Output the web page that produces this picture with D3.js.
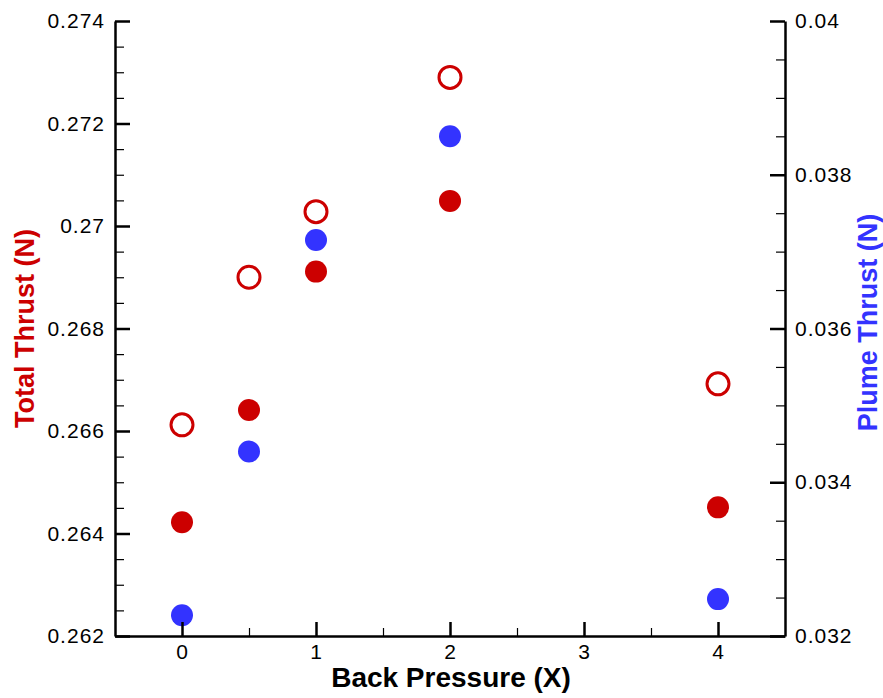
<!DOCTYPE html>
<html>
<head>
<meta charset="utf-8">
<script src="https://cdn.jsdelivr.net/npm/d3@7"></script>
<style>
  html, body { margin: 0; padding: 0; background: #fff; }
  svg { display: block; }
  text { font-family: "Liberation Sans", Arial, Helvetica, sans-serif; }
</style>
</head>
<body>
<svg id="chart" width="883" height="698"></svg>
<script>
// ---- data ----
const backPressure = [0, 0.5, 1, 2, 4];
const totalThrustOpen = [0.26612, 0.2690, 0.27028, 0.2729, 0.26692];
const totalThrustFilled = [0.26422, 0.26641, 0.26911, 0.27049, 0.26451];
const plumeThrust = [0.03227, 0.0344, 0.03715, 0.0385, 0.03248];

const xTicks = [0, 1, 2, 3, 4];
const xMinorTicks = [0.5, 1.5, 2.5, 3.5];
const leftTicks = [0.262, 0.264, 0.266, 0.268, 0.270, 0.272, 0.274];
const leftTickLabels = ["0.262", "0.264", "0.266", "0.268", "0.27", "0.272", "0.274"];
const rightTicks = [0.032, 0.034, 0.036, 0.038, 0.040];
const rightTickLabels = ["0.032", "0.034", "0.036", "0.038", "0.04"];

const xTitle = "Back Pressure (X)";
const leftTitle = "Total Thrust (N)";
const rightTitle = "Plume Thrust (N)";

// ---- layout ----
const red = "#cc0000", blue = "#3333ff";
const L = 115, R = 785, T = 21, B = 636;
const svg = d3.select("#chart");

const x = d3.scaleLinear().domain([-0.5, 4.5]).range([L, R]);
const yL = d3.scaleLinear().domain([0.262, 0.274]).range([B, T]);
const yR = d3.scaleLinear().domain([0.032, 0.040]).range([B, T]);

const leftMinor = d3.range(0, 25).map(i => 0.262 + i * 0.0005).filter((v, i) => i % 4 !== 0);
const rightMinor = d3.range(0, 17).map(i => 0.032 + i * 0.0005).filter((v, i) => i % 4 !== 0);

// ---- points ----
const pts = svg.append("g");
pts.selectAll("circle.open").data(backPressure).join("circle")
  .attr("cx", d => x(d)).attr("cy", (d, i) => yL(totalThrustOpen[i]))
  .attr("r", 11).attr("fill", "none").attr("stroke", red).attr("stroke-width", 3);
pts.selectAll("circle.filled").data(backPressure).join("circle")
  .attr("cx", d => x(d)).attr("cy", (d, i) => yL(totalThrustFilled[i]))
  .attr("r", 11).attr("fill", red);
pts.selectAll("circle.plume").data(backPressure).join("circle")
  .attr("cx", d => x(d)).attr("cy", (d, i) => yR(plumeThrust[i]))
  .attr("r", 11).attr("fill", blue);

// ---- axes ----
function style(g, size) {
  g.selectAll("path.domain").attr("stroke", "#000").attr("stroke-width", 2.5);
  g.selectAll(".tick line").attr("stroke", "#000").attr("stroke-width", size);
  g.selectAll(".tick text").attr("font-size", 21).attr("fill", "#000")
    .attr("letter-spacing", "1px")
    .attr("font-family", '"Liberation Sans", Arial, Helvetica, sans-serif');
}

// x axis
const gxMin = svg.append("g").attr("transform", `translate(0,${B})`)
  .call(d3.axisBottom(x).tickValues(xMinorTicks).tickSizeInner(-8).tickSizeOuter(0).tickFormat(""));
gxMin.select("path.domain").remove(); style(gxMin, 1.2);
const gx = svg.append("g").attr("transform", `translate(0,${B})`)
  .call(d3.axisBottom(x).tickValues(xTicks).tickSizeInner(-14).tickSizeOuter(0).tickPadding(8).tickFormat(d3.format("d")));
style(gx, 2.5);

// left axis
const glMin = svg.append("g").attr("transform", `translate(${L},0)`)
  .call(d3.axisLeft(yL).tickValues(leftMinor).tickSizeInner(-9).tickSizeOuter(0).tickFormat(""));
glMin.select("path.domain").remove(); style(glMin, 1.2);
const gl = svg.append("g").attr("transform", `translate(${L},0)`)
  .call(d3.axisLeft(yL).tickValues(leftTicks).tickSizeInner(-15).tickSizeOuter(0).tickPadding(10)
    .tickFormat((d, i) => leftTickLabels[i]));
style(gl, 2.5);

// right axis
const grMin = svg.append("g").attr("transform", `translate(${R},0)`)
  .call(d3.axisRight(yR).tickValues(rightMinor).tickSizeInner(-9).tickSizeOuter(0).tickFormat(""));
grMin.select("path.domain").remove(); style(grMin, 1.2);
const gr = svg.append("g").attr("transform", `translate(${R},0)`)
  .call(d3.axisRight(yR).tickValues(rightTicks).tickSizeInner(-15).tickSizeOuter(0).tickPadding(10)
    .tickFormat((d, i) => rightTickLabels[i]));
style(gr, 2.5);

// ---- titles ----
svg.append("text").attr("x", (L + R) / 2 + 1).attr("y", 687)
  .attr("text-anchor", "middle").attr("font-size", 28).attr("font-weight", "bold")
  .attr("fill", "#000").text(xTitle);
svg.append("text").attr("transform", `translate(34,${(T + B) / 2}) rotate(-90)`)
  .attr("text-anchor", "middle").attr("font-size", 27).attr("font-weight", "bold")
  .attr("fill", red).text(leftTitle);
svg.append("text").attr("transform", `translate(877,${(T + B) / 2 - 6}) rotate(-90)`)
  .attr("text-anchor", "middle").attr("font-size", 27).attr("font-weight", "bold")
  .attr("fill", blue).text(rightTitle);
</script>
</body>
</html>
